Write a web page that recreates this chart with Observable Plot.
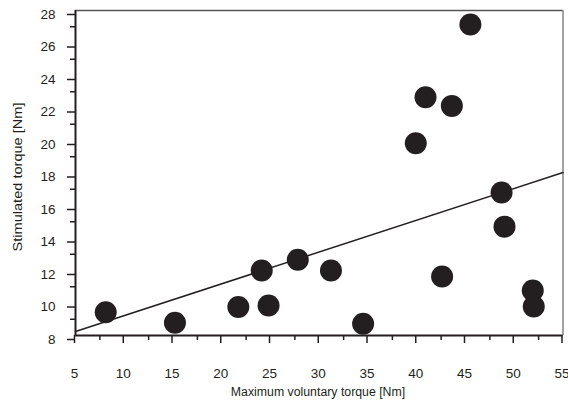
<!DOCTYPE html>
<html><head><meta charset="utf-8">
<script src="https://cdn.jsdelivr.net/npm/d3@7"></script>
<script src="https://cdn.jsdelivr.net/npm/@observablehq/plot@0.6"></script>
<style>html,body{margin:0;padding:0;background:#fff} svg{display:block}</style>
</head><body><div id="chart"></div>
<script>
const maxVoluntary = [8.1, 15.2, 21.7, 24.8, 24.1, 27.8, 31.2, 34.5, 39.9, 40.9, 43.6, 45.5, 42.6, 48.7, 49.0, 51.9, 52.0];
const stimulated   = [9.43, 8.78, 9.75, 9.85, 12.0, 12.66, 12.0, 8.72, 19.83, 22.66, 22.13, 27.14, 11.63, 16.8, 14.7, 10.77, 9.78];
const fitX = [5, 55];
const fitY = [8.25, 18.03];
const xTicks = [5, 10, 15, 20, 25, 30, 35, 40, 45, 50, 55];
const xMinorTicks = [7.5, 12.5, 17.5, 22.5, 27.5, 32.5, 37.5, 42.5, 47.5, 52.5];
const yTicks = [8, 10, 12, 14, 16, 18, 20, 22, 24, 26, 28];
const yMinorTicks = [9, 11, 13, 15, 17, 19, 21, 23, 25, 27];
const xTitle = "Maximum voluntary torque [Nm]";
const yTitle = "Stimulated torque [Nm]";

const points = maxVoluntary.map((x, i) => ({x, y: stimulated[i]}));
const fit = fitX.map((x, i) => ({x, y: fitY[i]}));
const ink = "#231f20";

const chart = Plot.plot({
  width: 568,
  height: 407,
  marginLeft: 75,
  marginRight: 5.5,
  marginTop: 10,
  marginBottom: 72,
  style: {fontFamily: "'Liberation Sans', Arial, sans-serif", fontSize: "13.5px", background: "#fff", color: ink},
  x: {domain: [5, 55]},
  y: {domain: [8, 28]},
  marks: [
    Plot.ruleY([28], {stroke: "#555", strokeWidth: 1.5}),
    Plot.ruleX([55], {stroke: "#666", strokeWidth: 1.2}),
    Plot.axisX({ticks: xMinorTicks, tickSize: 5, tickFormat: () => "", strokeWidth: 1.5, stroke: ink, label: null}),
    Plot.axisY({ticks: yMinorTicks, tickSize: 5, tickFormat: () => "", strokeWidth: 1.5, stroke: ink, label: null}),
    Plot.axisX({ticks: xTicks, tickSize: 8, tickPadding: 25, dx: -1, strokeWidth: 1.5, stroke: ink, fill: ink, label: null}),
    Plot.axisY({ticks: yTicks, tickSize: 8, tickPadding: 12, dy: 4, strokeWidth: 1.5, stroke: ink, fill: ink, label: null}),
    Plot.ruleX([5], {stroke: ink, strokeWidth: 2}),
    Plot.ruleY([8], {stroke: ink, strokeWidth: 2}),
    Plot.line(fit, {x: "x", y: "y", stroke: ink, strokeWidth: 1.5}),
    Plot.dot(points, {x: "x", y: "y", r: 11, fill: ink, stroke: "none"})
  ]
});

const svg = d3.select(chart);
svg.append("text")
  .attr("x", 318).attr("y", 396)
  .attr("text-anchor", "middle")
  .attr("font-size", 12.3)
  .attr("fill", ink)
  .text(xTitle);
svg.append("text")
  .attr("transform", "translate(21.5,177) rotate(-90)")
  .attr("text-anchor", "middle")
  .attr("font-size", 12)
  .attr("textLength", 149)
  .attr("lengthAdjust", "spacingAndGlyphs")
  .attr("fill", ink)
  .text(yTitle);

document.getElementById("chart").appendChild(chart);
</script>
</body></html>
